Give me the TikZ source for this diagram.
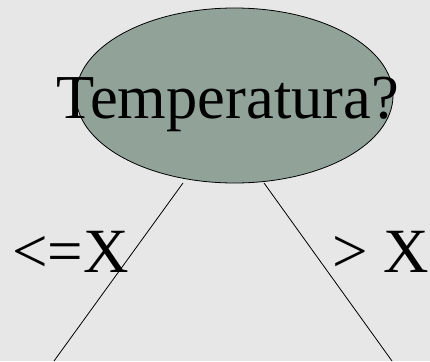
\documentclass[tikz,border=0pt]{standalone}
\usepackage{fontspec}
\setmainfont{Liberation Serif}
\usetikzlibrary{shapes.geometric}
\definecolor{bg}{RGB}{231,231,231}
\definecolor{nodefill}{RGB}{145,163,152}
\begin{document}
\begin{tikzpicture}[x=1pt,y=-1pt,
  lbl/.style={inner sep=0pt,font=\fontsize{63}{63}\selectfont},
  conn/.style={draw=black,line width=0.8pt}]
\fill[bg] (0,0) rectangle (430,361);
\useasboundingbox (0,0) rectangle (430,361);
\node[ellipse,draw=black,line width=0.8pt,fill=nodefill,minimum width=317pt,minimum height=175pt,inner sep=0pt] (root) at (234.5,95.5) {};
\node[inner sep=0pt,font=\fontsize{62.5}{62.5}\selectfont,anchor=base] (title) at (227.5,118) {Temperatura?};
\coordinate (la) at (183,183);
\coordinate (lb) at (54,361);
\coordinate (ra) at (264,183);
\coordinate (rb) at (392,361);
\draw[conn] (la) -- (lb);
\draw[conn] (ra) -- (rb);
\node[lbl,anchor=base west] (left) at (12,272) {<=X};
\node[lbl,anchor=base west] (right) at (332,272) {> X};
\end{tikzpicture}
\end{document}
